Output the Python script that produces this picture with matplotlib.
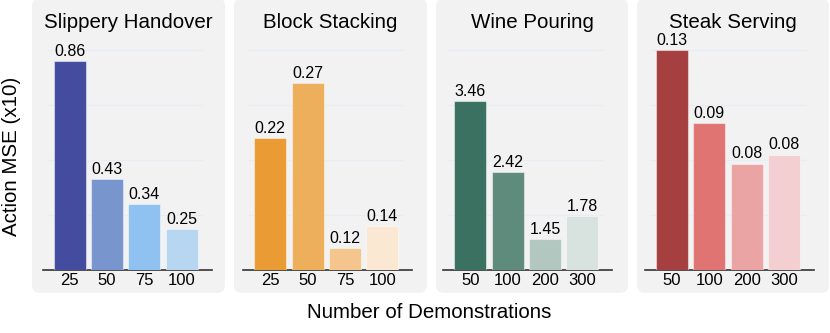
import matplotlib
matplotlib.use("Agg")
import matplotlib.pyplot as plt
from matplotlib.patches import FancyBboxPatch
from matplotlib.transforms import IdentityTransform

plt.rcParams['font.family'] = ['Liberation Sans', 'DejaVu Sans']

# Data
tasks = ["Slippery Handover", "Block Stacking", "Wine Pouring", "Steak Serving"]
demos = [["25", "50", "75", "100"],
         ["25", "50", "75", "100"],
         ["50", "100", "200", "300"],
         ["50", "100", "200", "300"]]
mse_handover = [0.86, 0.43, 0.34, 0.25]
mse_stacking = [0.22, 0.27, 0.12, 0.14]
mse_pouring = [3.46, 2.42, 1.45, 1.78]
mse_steak = [0.130, 0.090, 0.068, 0.073]
labels_handover = ["0.86", "0.43", "0.34", "0.25"]
labels_stacking = ["0.22", "0.27", "0.12", "0.14"]
labels_pouring = ["3.46", "2.42", "1.45", "1.78"]
labels_steak = ["0.13", "0.09", "0.08", "0.08"]

values = [mse_handover, mse_stacking, mse_pouring, mse_steak]
labels = [labels_handover, labels_stacking, labels_pouring, labels_steak]

colors = [["#434C9E", "#7895CE", "#8FC1F1", "#B7D6F1"],
          ["#EA9B34", "#EDAF5C", "#F4C68D", "#FAE8D3"],
          ["#3A7160", "#5F8B7D", "#B2C7BF", "#D8E3DF"],
          ["#A53F40", "#E07473", "#EAA4A4", "#F4CFD1"]]

# y-axis bottom and grid step per panel
y_bottom = [0.1, 0.1, 1.0, 0.01]
y_step = [0.2, 0.05, 0.8, 0.03]

W, H = 830, 333
fig = plt.figure(figsize=(W / 100, H / 100), dpi=100)

panel_left = [32, 234, 436, 637]
panel_right = [225, 427, 628, 829]
axes_left = [42.7, 243.3, 443.3, 645]
axes_w = 169
base_y = 270
top_y = 40
grid_px = 55

for i in range(4):
    # rounded gray panel behind each subplot
    x0, x1 = panel_left[i], panel_right[i]
    bg = FancyBboxPatch((x0 + 8, H - 293 + 8), (x1 - x0) - 16, 293 + 2 - 16,
                        boxstyle="round,pad=8", facecolor="#F2F2F2",
                        edgecolor="none", transform=IdentityTransform(),
                        zorder=-10)
    fig.patches.append(bg)

    ax = fig.add_axes([axes_left[i] / W, (H - base_y) / H,
                       axes_w / W, (base_y - top_y) / H])
    ax.patch.set_visible(False)
    ax.set_zorder(1)

    x = list(range(4))
    ax.bar(x, values[i], width=0.86, color=colors[i],
           edgecolor=(1, 1, 1, 0.45), linewidth=0.8, zorder=3)
    for xi, v, lab in zip(x, values[i], labels[i]):
        ax.annotate(lab, (xi, v), xytext=(0, 7), textcoords="offset points",
                    ha="center", va="center", fontsize=11.5, zorder=4)

    b, s = y_bottom[i], y_step[i]
    ax.set_ylim(b, b + s * (base_y - top_y) / grid_px)
    ax.set_xlim(-0.72, 3.8)
    grid_vals = [b + s * k for k in range(1, 5)]
    ax.hlines(grid_vals, 0.03, 0.95, transform=ax.get_yaxis_transform(),
              color="#E8EDF3", linewidth=0.9, zorder=1)

    ax.set_xticks(x)
    ax.set_xticklabels(demos[i], fontsize=12)
    ax.tick_params(axis="x", length=0, pad=2)
    ax.set_yticks([])
    for side in ["top", "right", "left"]:
        ax.spines[side].set_visible(False)
    ax.spines["bottom"].set_color("#333333")
    ax.spines["bottom"].set_linewidth(1.2)

    fig.text((x0 + x1) / 2 / W, 1 - 22 / H, tasks[i], ha="center",
             va="center", fontsize=14.8)

fig.text(12 / W, 1 - 156 / H, "Action MSE (x10)", rotation=90,
         ha="center", va="center", fontsize=14.8)
fig.text(428.7 / W, 1 - 313 / H, "Number of Demonstrations",
         ha="center", va="center", fontsize=14.8)

fig.savefig("out.png", dpi=100)
